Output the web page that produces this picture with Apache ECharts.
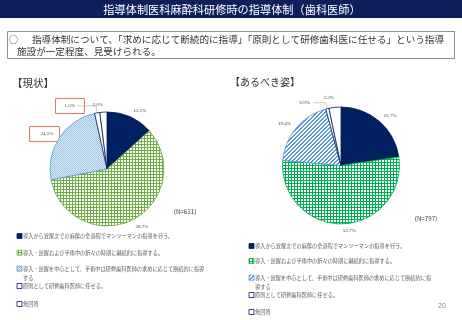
<!DOCTYPE html>
<html>
<head>
<meta charset="utf-8">
<script src="https://cdn.jsdelivr.net/npm/echarts@6/dist/echarts.min.js"></script>
<style>
html, body { margin: 0; padding: 0; background: #fff; }
#guideChart { width: 462px; height: 320px; }
</style>
</head>
<body>
<div id="guideChart"></div>
<script>
var categories = [
  '導入から覚醒までの麻酔の全過程でマンツーマンの指導を行う。',
  '導入・覚醒および手術中の折々の時期に継続的に指導する。',
  '導入・覚醒を中心として、手術中は研修歯科医師の求めに応じて断続的に指導する',
  '原則として研修歯科医師に任せる。',
  '無回答'
];
var currentValues = [13.3, 58.7, 24.5, 1.5, 2.0];
var idealValues = [22.7, 53.7, 19.4, 0.9, 3.3];
var currentTitle = '【現状】';
var idealTitle = '【あるべき姿】';
var currentN = '（N=611）';
var idealN = '（N=797）';
var pageTitle = '指導体制医科麻酔科研修時の指導体制（歯科医師）';
var summaryLine1 = '指導体制について、「求めに応じて断続的に指導」「原則として研修歯科医に任せる」という指導';
var summaryLine2 = '施設が一定程度、見受けられる。';

var NAVY = '#002060';

// small canvas tiles for the hatched fills
function makePattern(size, paint) {
  var c = document.createElement('canvas');
  c.width = size; c.height = size;
  var ctx = c.getContext('2d');
  ctx.fillStyle = '#fff';
  ctx.fillRect(0, 0, size, size);
  paint(ctx);
  return { image: c, repeat: 'repeat' };
}
function plaid(color) {
  return makePattern(3, function (ctx) {
    ctx.fillStyle = color;
    ctx.fillRect(0, 0, 3, 1);
    ctx.fillRect(0, 0, 1, 3);
  });
}
var lightBlue = makePattern(2, function (ctx) {
  ctx.fillStyle = '#DEEBF7';
  ctx.fillRect(0, 0, 2, 2);
  ctx.fillStyle = '#9DC3E6';
  ctx.fillRect(0, 0, 1, 1);
  ctx.fillRect(1, 1, 1, 1);
});
var stripes = makePattern(4, function (ctx) {
  ctx.fillStyle = '#5B9BD5';
  for (var x = 0; x < 4; x++) {
    for (var y = 0; y < 4; y++) {
      if ((x + y) % 4 < 2) ctx.fillRect(x, y, 1, 1);
    }
  }
});

var leftFills = [NAVY, plaid('#70AD47'), lightBlue, '#fff', '#fff'];
var leftBorders = [NAVY, '#70AD47', '#5B9BD5', NAVY, NAVY];
var rightFills = [NAVY, plaid('#00B050'), stripes, '#fff', '#fff'];
var rightBorders = [NAVY, '#00B050', '#5B9BD5', NAVY, NAVY];

function pieData(values, fills, borders, tweaks) {
  return values.map(function (v, i) {
    var d = {
      name: categories[i],
      value: v,
      itemStyle: { color: fills[i], borderColor: borders[i], borderWidth: 0.8 }
    };
    if (tweaks[i]) {
      if (tweaks[i].labelLine) d.labelLine = tweaks[i].labelLine;
      if (tweaks[i].label) d.label = tweaks[i].label;
    }
    return d;
  });
}

function pieSeries(center, radius, data) {
  return {
    type: 'pie',
    center: center,
    radius: radius,
    startAngle: 90,
    clockwise: true,
    avoidLabelOverlap: false,
    silent: true,
    label: {
      show: true,
      position: 'outside',
      formatter: function (p) { return p.value.toFixed(1) + '%'; },
      fontSize: 5,
      fontFamily: 'Liberation Serif',
      color: '#404040',
      distanceToLabelLine: 0
    },
    labelLine: {
      show: false,
      length: 7,
      length2: 0,
      lineStyle: { color: '#A6A6A6', width: 0.6 }
    },
    data: data
  };
}

var leftTweaks = {
  3: { labelLine: { show: true, length: 7, length2: 18 }, label: { distanceToLabelLine: 3 } }
};
var rightTweaks = {
  3: { labelLine: { show: true, length: 6, length2: 13 }, label: { distanceToLabelLine: 3 } },
  4: { labelLine: { show: false, length: 10 } }
};

// legend drawn as graphic so the wrapped line spacing matches
function legendGraphics(x, ys, fills, borders, wrapWidth) {
  var out = [];
  categories.forEach(function (name, i) {
    out.push({
      type: 'rect',
      shape: { x: x, y: ys[i] - 2.5, width: 5, height: 5 },
      style: { fill: fills[i], stroke: borders[i], lineWidth: 0.8 }
    });
    out.push({
      type: 'text',
      x: x + 6,
      y: ys[i] - 4.65,
      style: {
        text: name,
        fontSize: 5.2,
        fontFamily: 'Noto Sans CJK JP',
        fill: '#595959',
        width: wrapWidth,
        overflow: 'break',
        lineHeight: 9.3,
        verticalAlign: 'top'
      }
    });
  });
  return out;
}

var graphics = [
  { type: 'rect', shape: { x: 0, y: 0, width: 462, height: 18 }, style: { fill: '#0E1F5C' } },
  { type: 'text', x: 232, y: 9.5, style: { text: pageTitle, fontSize: 11.2, fontFamily: 'Noto Sans CJK JP', fill: '#fff', align: 'center', verticalAlign: 'middle' } },
  { type: 'rect', shape: { x: 7.5, y: 31.5, width: 447, height: 27 }, style: { fill: 'none', stroke: '#8C8C8C', lineWidth: 1 } },
  { type: 'text', x: 9, y: 39.5, style: { text: '○', fontSize: 9, fontFamily: 'Noto Sans CJK JP', fill: '#333', verticalAlign: 'middle' } },
  { type: 'text', x: 32, y: 39.5, style: { text: summaryLine1, fontSize: 9.6, fontFamily: 'Noto Sans CJK JP', fill: '#333', verticalAlign: 'middle' } },
  { type: 'text', x: 17, y: 51.5, style: { text: summaryLine2, fontSize: 9.6, fontFamily: 'Noto Sans CJK JP', fill: '#333', verticalAlign: 'middle' } },
  { type: 'text', x: 12, y: 83, style: { text: currentTitle, fontSize: 10.5, fontFamily: 'Noto Sans CJK JP', fill: '#333', verticalAlign: 'middle' } },
  { type: 'text', x: 230, y: 82, style: { text: idealTitle, fontSize: 10, fontFamily: 'Noto Sans CJK JP', fill: '#333', verticalAlign: 'middle' } },
  { type: 'text', x: 185, y: 212, style: { text: currentN, fontSize: 6.2, fontFamily: 'Noto Sans CJK JP', fill: '#404040', align: 'center', verticalAlign: 'middle' } },
  { type: 'text', x: 426, y: 219, style: { text: idealN, fontSize: 6.2, fontFamily: 'Noto Sans CJK JP', fill: '#404040', align: 'center', verticalAlign: 'middle' } },
  // red highlight boxes on the left pie labels
  { type: 'rect', shape: { x: 55.5, y: 98.5, width: 29, height: 15 }, style: { fill: 'none', stroke: '#F07070', lineWidth: 1 } },
  { type: 'rect', shape: { x: 29.5, y: 126.5, width: 30, height: 15 }, style: { fill: 'none', stroke: '#F07070', lineWidth: 1 } },
  { type: 'text', x: 442, y: 306, style: { text: '20', fontSize: 7, fontFamily: 'Liberation Sans', fill: '#7F7F7F', align: 'center', verticalAlign: 'middle' } }
];
graphics = graphics.concat(
  legendGraphics(17, [236, 252.7, 268.7, 286, 304], leftFills, leftBorders, 184),
  legendGraphics(249, [246, 261, 277.7, 295, 312], rightFills, rightBorders, 178)
);

var option = {
  animation: false,
  backgroundColor: '#fff',
  graphic: graphics,
  series: [
    pieSeries([107, 169], 57, pieData(currentValues, leftFills, leftBorders, leftTweaks)),
    pieSeries([341, 165.5], 58.5, pieData(idealValues, rightFills, rightBorders, rightTweaks))
  ]
};

var guideChart = echarts.init(document.getElementById('guideChart'));
guideChart.setOption(option);
</script>
</body>
</html>
